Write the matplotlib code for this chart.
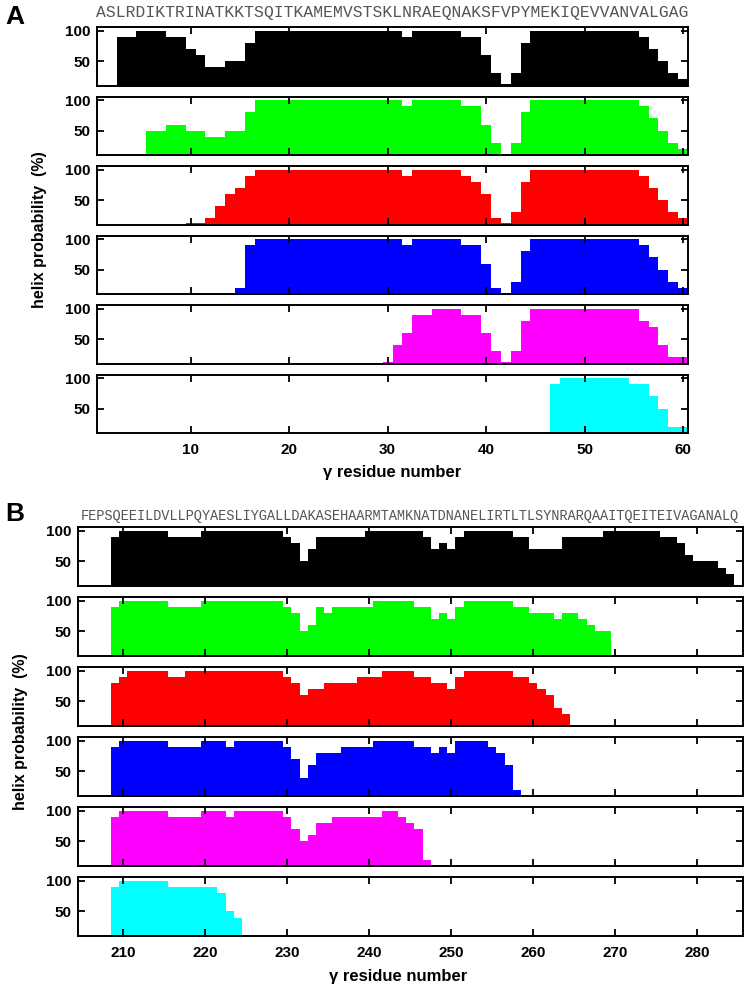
import numpy as np
import matplotlib
matplotlib.use("Agg")
import matplotlib.pyplot as plt

plt.rcParams['font.family'] = ['Liberation Sans Narrow', 'Liberation Sans', 'DejaVu Sans']
plt.rcParams['font.weight'] = 'bold'

# ---------------- data: panel A (residues 1..60) ----------------
a_first_residue = 1
a_sequence = "ASLRDIKTRINATKKTSQITKAMEMVSTSKLNRAEQNAKSFVPYMEKIQEVVANVALGAG"
a_xticks = [10, 20, 30, 40, 50, 60]

a_black = [0, 0, 90, 90, 100, 100, 100, 90, 90, 70,
           60, 40, 40, 50, 50, 80, 100, 100, 100, 100,
           100, 100, 100, 100, 100, 100, 100, 100, 100, 100,
           100, 90, 100, 100, 100, 100, 100, 90, 90, 60,
           30, 12, 30, 80, 100, 100, 100, 100, 100, 100,
           100, 100, 100, 100, 100, 90, 70, 50, 30, 20]
a_green = [0, 0, 0, 0, 12, 50, 50, 60, 60, 50,
           50, 40, 40, 50, 50, 80, 100, 100, 100, 100,
           100, 100, 100, 100, 100, 100, 100, 100, 100, 100,
           100, 90, 100, 100, 100, 100, 100, 90, 90, 60,
           30, 12, 30, 80, 100, 100, 100, 100, 100, 100,
           100, 100, 100, 100, 100, 90, 70, 50, 30, 20]
a_red = [0, 0, 0, 0, 0, 0, 0, 0, 0, 12,
         12, 20, 40, 60, 70, 90, 100, 100, 100, 100,
         100, 100, 100, 100, 100, 100, 100, 100, 100, 100,
         100, 90, 100, 100, 100, 100, 100, 90, 80, 60,
         20, 12, 30, 80, 100, 100, 100, 100, 100, 100,
         100, 100, 100, 100, 100, 90, 70, 50, 30, 20]
a_blue = [0, 0, 0, 0, 0, 0, 0, 0, 0, 0,
          0, 0, 0, 12, 20, 90, 100, 100, 100, 100,
          100, 100, 100, 100, 100, 100, 100, 100, 100, 100,
          100, 90, 100, 100, 100, 100, 100, 90, 90, 60,
          20, 12, 30, 80, 100, 100, 100, 100, 100, 100,
          100, 100, 100, 100, 100, 90, 70, 50, 30, 20]
a_magenta = [0, 0, 0, 0, 0, 0, 0, 0, 0, 0,
             0, 0, 0, 0, 0, 0, 0, 0, 0, 0,
             0, 0, 0, 0, 0, 0, 0, 0, 0, 12,
             40, 60, 90, 90, 100, 100, 100, 90, 90, 60,
             30, 12, 30, 80, 100, 100, 100, 100, 100, 100,
             100, 100, 100, 100, 100, 80, 70, 40, 20, 20]
a_cyan = [0, 0, 0, 0, 0, 0, 0, 0, 0, 0,
          0, 0, 0, 0, 0, 0, 0, 0, 0, 0,
          0, 0, 0, 0, 0, 0, 0, 0, 0, 0,
          0, 0, 0, 0, 0, 0, 0, 0, 0, 0,
          0, 0, 0, 0, 0, 12, 90, 100, 100, 100,
          100, 100, 100, 100, 90, 90, 70, 50, 20, 20]

# ---------------- data: panel B (residues 205..285) ----------------
b_first_residue = 205
b_sequence = "FEPSQEEILDVLLPQYAESLIYGALLDAKASEHAARMTAMKNATDNANELIRTLTLSYNRARQAAITQEITEIVAGANALQ"
b_xticks = [210, 220, 230, 240, 250, 260, 270, 280]

b_black = [12, 12, 12, 12, 90, 100, 100, 100, 100, 100,
           100, 90, 90, 90, 90, 100, 100, 100, 100, 100,
           100, 100, 100, 100, 100, 90, 80, 50, 70, 90,
           90, 90, 90, 90, 90, 100, 100, 100, 100, 100,
           100, 100, 90, 70, 80, 70, 90, 100, 100, 100,
           100, 100, 100, 90, 90, 70, 70, 70, 70, 90,
           90, 90, 90, 90, 100, 100, 100, 100, 100, 100,
           100, 90, 90, 80, 60, 50, 50, 50, 40, 30,
           0]
b_green = [12, 12, 12, 12, 90, 100, 100, 100, 100, 100,
           100, 90, 90, 90, 90, 100, 100, 100, 100, 100,
           100, 100, 100, 100, 100, 90, 80, 50, 60, 90,
           80, 90, 90, 90, 90, 90, 100, 100, 100, 100,
           100, 90, 90, 70, 80, 70, 90, 100, 100, 100,
           100, 100, 100, 90, 90, 80, 80, 80, 70, 80,
           80, 70, 60, 50, 50, 12, 0, 0, 0, 0,
           0, 0, 0, 0, 0, 0, 0, 0, 0, 0,
           0]
b_red = [12, 12, 12, 12, 80, 90, 100, 100, 100, 100,
         100, 90, 90, 100, 100, 100, 100, 100, 100, 100,
         100, 100, 100, 100, 100, 90, 80, 60, 70, 70,
         80, 80, 80, 80, 90, 90, 90, 100, 100, 100,
         100, 90, 90, 80, 80, 70, 90, 100, 100, 100,
         100, 100, 100, 90, 90, 80, 70, 60, 40, 30,
         12, 0, 0, 0, 0, 0, 0, 0, 0, 0,
         0, 0, 0, 0, 0, 0, 0, 0, 0, 0,
         0]
b_blue = [12, 12, 12, 12, 90, 100, 100, 100, 100, 100,
          100, 90, 90, 90, 90, 100, 100, 100, 90, 100,
          100, 100, 100, 100, 100, 90, 70, 40, 60, 80,
          80, 80, 90, 90, 90, 90, 100, 100, 100, 100,
          100, 90, 90, 80, 90, 80, 100, 100, 100, 100,
          90, 80, 60, 20, 0, 0, 0, 0, 0, 0,
          0, 0, 0, 0, 0, 0, 0, 0, 0, 0,
          0, 0, 0, 0, 0, 0, 0, 0, 0, 0,
          0]
b_magenta = [12, 12, 12, 12, 90, 100, 100, 100, 100, 100,
             100, 90, 90, 90, 90, 100, 100, 100, 90, 100,
             100, 100, 100, 100, 100, 90, 70, 50, 60, 80,
             80, 90, 90, 90, 90, 90, 90, 100, 100, 90,
             80, 70, 20, 12, 12, 0, 0, 0, 0, 0,
             0, 0, 0, 0, 0, 0, 0, 0, 0, 0,
             0, 0, 0, 0, 0, 0, 0, 0, 0, 0,
             0, 0, 0, 0, 0, 0, 0, 0, 0, 0,
             0]
b_cyan = [12, 12, 12, 12, 90, 100, 100, 100, 100, 100,
          100, 90, 90, 90, 90, 90, 90, 80, 50, 40,
          12, 0, 0, 0, 0, 0, 0, 0, 0, 0,
          0, 0, 0, 0, 0, 0, 0, 0, 0, 0,
          0, 0, 0, 0, 0, 0, 0, 0, 0, 0,
          0, 0, 0, 0, 0, 0, 0, 0, 0, 0,
          0, 0, 0, 0, 0, 0, 0, 0, 0, 0,
          0, 0, 0, 0, 0, 0, 0, 0, 0, 0,
          0]

series_colors = ['#000000', '#00ff00', '#ff0000', '#0000ff', '#ff00ff', '#00ffff']
yticks = [50, 100]
y_range = (10, 106)
xlabel_text = "γ residue number"
ylabel_text = "helix probability  (%)"

# ---------------- layout ----------------
W, H, DPI = 745, 991, 100
fig = plt.figure(figsize=(W / DPI, H / DPI), dpi=DPI)


def draw_panel(series, first, seq, xticks, left, right, tops, height,
               letter, letter_xy, seq_y, ylab_x, xlab_x, xlab_y):
    axes = []
    n = len(series[0])
    for i, (vals, col) in enumerate(zip(series, series_colors)):
        top = tops[i]
        ax = fig.add_axes([left / W, 1 - (top + height) / H,
                           (right - left) / W, height / H])
        res = np.arange(first, first + n)
        edges = np.append(res - 0.5, res[-1] + 0.5)
        v = np.append(np.asarray(vals, float), vals[-1])
        ax.fill_between(edges, v, 0, step='post', color=col, linewidth=0)
        ax.set_xlim(first - 0.5, first + n - 0.5)
        ax.set_ylim(*y_range)
        ax.set_yticks(yticks)
        ax.set_xticks(xticks)
        ax.tick_params(direction='in', top=True, right=True, length=5,
                       width=1.3, labelsize=11, pad=5)
        ax.tick_params(axis='x', pad=7)
        for s in ax.spines.values():
            s.set_linewidth(1.4)
        if i < len(series) - 1:
            ax.set_xticklabels([])
        axes.append(ax)
    # sequence text, monospaced to line up with residues
    px_per_res = (right - left) / n
    fs = px_per_res / 0.6 * 72 / DPI
    fig.text((left + right) / 2 / W, 1 - seq_y / H, seq, family='Liberation Mono',
             fontweight='normal', fontsize=fs, color='#555555',
             ha='center', va='center')
    fig.text(letter_xy[0] / W, 1 - letter_xy[1] / H, letter, family='Liberation Sans',
             fontweight='bold', fontsize=19, ha='center', va='center')
    ymid = tops[0] + (tops[-1] + height - tops[0]) / 2
    fig.text(ylab_x / W, 1 - ymid / H, ylabel_text, rotation=90, fontsize=11.5,
             fontweight='bold', ha='center', va='center', family='Liberation Sans')
    fig.text(xlab_x / W, 1 - xlab_y / H, xlabel_text, fontsize=12,
             fontweight='bold', ha='center', va='center')
    return axes


draw_panel([a_black, a_green, a_red, a_blue, a_magenta, a_cyan],
           a_first_residue, a_sequence, a_xticks,
           left=97, right=688, tops=[27, 96.5, 166, 235.5, 305, 374.5], height=58.5,
           letter='A', letter_xy=(15, 17), seq_y=13, ylab_x=40,
           xlab_x=392, xlab_y=473)

draw_panel([b_black, b_green, b_red, b_blue, b_magenta, b_cyan],
           b_first_residue, b_sequence, b_xticks,
           left=78, right=742.5, tops=[527, 597, 667, 737, 807, 877], height=59,
           letter='B', letter_xy=(15, 514), seq_y=516, ylab_x=21,
           xlab_x=398, xlab_y=977)

fig.savefig('out.png', dpi=DPI)
